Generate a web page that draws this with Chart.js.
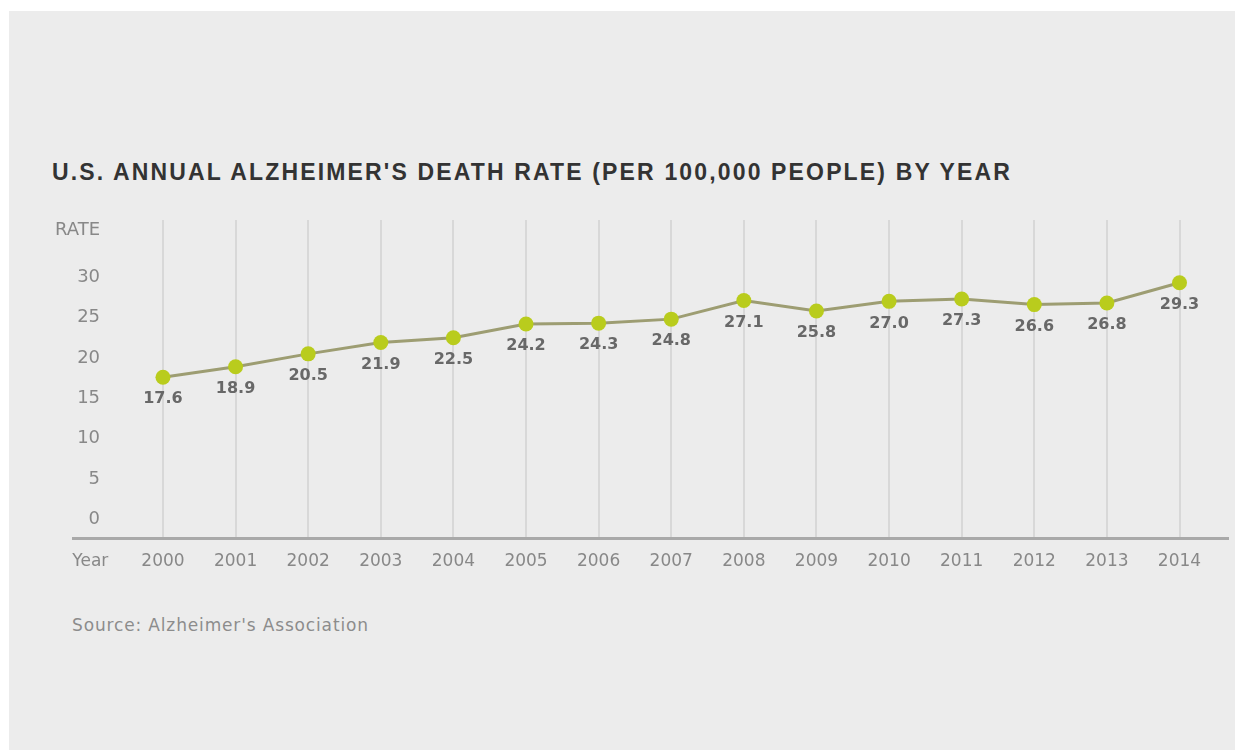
<!DOCTYPE html>
<html>
<head>
<meta charset="utf-8">
<script src="https://cdn.jsdelivr.net/npm/chart.js@4.4.1/dist/chart.umd.min.js"></script>
<style>
  html, body { margin: 0; padding: 0; background: #ffffff; }
  body { width: 1235px; height: 750px; position: relative; overflow: hidden; }
  #bg { position: absolute; left: 9px; top: 11px; right: 0; bottom: 0; background: #ececec; }
  #title { position: absolute; left: 52px; top: 158px; font-family: 'Liberation Sans', Arial, sans-serif; font-weight: bold; font-size: 23px; letter-spacing: 2.15px; line-height: 28px; color: #333333; white-space: nowrap; }
  #source { position: absolute; left: 72px; top: 614px; font-family: 'DejaVu Sans', sans-serif; font-size: 17px; letter-spacing: 0.85px; line-height: 22px; color: #8c8c8c; white-space: nowrap; }
  #wrap { position: absolute; left: 0; top: 0; width: 1235px; height: 750px; }
</style>
</head>
<body>
<div id="bg"></div>
<div id="title">U.S. ANNUAL ALZHEIMER'S DEATH RATE (PER 100,000 PEOPLE) BY YEAR</div>
<div id="source">Source: Alzheimer's Association</div>
<div id="wrap"><canvas id="c" width="1235" height="750"></canvas></div>
<script>
// ---- data ----
const years = [2000, 2001, 2002, 2003, 2004, 2005, 2006, 2007, 2008, 2009, 2010, 2011, 2012, 2013, 2014];
const rates = [17.6, 18.9, 20.5, 21.9, 22.5, 24.2, 24.3, 24.8, 27.1, 25.8, 27.0, 27.3, 26.6, 26.8, 29.3];
const yTickValues = [0, 5, 10, 15, 20, 25, 30];
const yAxisTitle = 'RATE';
const xAxisTitle = 'Year';

const RATE_POS = 35.83;   // where the RATE caption sits on the y scale
const YEAR_POS = 1999;    // where the Year caption sits on the x scale

const points = years.map((y, i) => ({ x: y, y: rates[i] }));

const valueLabels = {
  id: 'valueLabels',
  afterDatasetsDraw(chart) {
    const ctx = chart.ctx;
    const meta = chart.getDatasetMeta(0);
    ctx.save();
    ctx.font = 'bold 16px "DejaVu Sans"';
    ctx.fillStyle = '#686868';
    ctx.textAlign = 'center';
    ctx.textBaseline = 'middle';
    meta.data.forEach((el, i) => {
      ctx.fillText(rates[i].toFixed(1), el.x, el.y + 22);
    });
    ctx.restore();
  }
};

Chart.defaults.font.family = '"DejaVu Sans", sans-serif';

new Chart(document.getElementById('c'), {
  type: 'line',
  data: {
    datasets: [{
      data: points,
      borderColor: '#9d9d72',
      borderWidth: 3,
      pointRadius: 7.5,
      pointHoverRadius: 7.5,
      pointBackgroundColor: '#b9cc1d',
      pointBorderWidth: 0,
      tension: 0,
      fill: false
    }]
  },
  options: {
    responsive: false,
    animation: false,
    events: [],
    layout: { padding: { left: 73, right: 7, top: 220, bottom: 172 } },
    plugins: { legend: { display: false }, tooltip: { enabled: false }, title: { display: false } },
    scales: {
      x: {
        type: 'linear',
        min: 1998.761,
        max: 2014.661,
        afterBuildTicks: (scale) => {
          scale.ticks = [YEAR_POS].concat(years).map(v => ({ value: v }));
        },
        afterFit: (scale) => { scale.height = 40; },
        ticks: {
          autoSkip: false,
          maxRotation: 0,
          includeBounds: false,
          padding: 13,
          color: '#888888',
          font: { size: 17 },
          callback: (v) => v === YEAR_POS ? xAxisTitle : String(v)
        },
        grid: {
          drawTicks: false,
          offset: false,
          lineWidth: 2,
          color: (c) => (c.tick && c.tick.value === YEAR_POS) ? 'rgba(0,0,0,0)' : '#d8d8d8'
        },
        border: { display: true, color: '#a9a9a9', width: 3 }
      },
      y: {
        type: 'linear',
        min: -2.29,
        max: 37.07,
        afterBuildTicks: (scale) => {
          scale.ticks = yTickValues.concat([RATE_POS]).map(v => ({ value: v }));
        },
        afterFit: (scale) => { scale.width = 0; },
        ticks: {
          mirror: true,
          crossAlign: 'far',
          padding: -18,
          color: '#888888',
          font: { size: 18 },
          callback: (v) => v === RATE_POS ? yAxisTitle : String(v)
        },
        grid: { display: false, drawTicks: false },
        border: { display: false }
      }
    }
  },
  plugins: [valueLabels]
});
</script>
</body>
</html>
